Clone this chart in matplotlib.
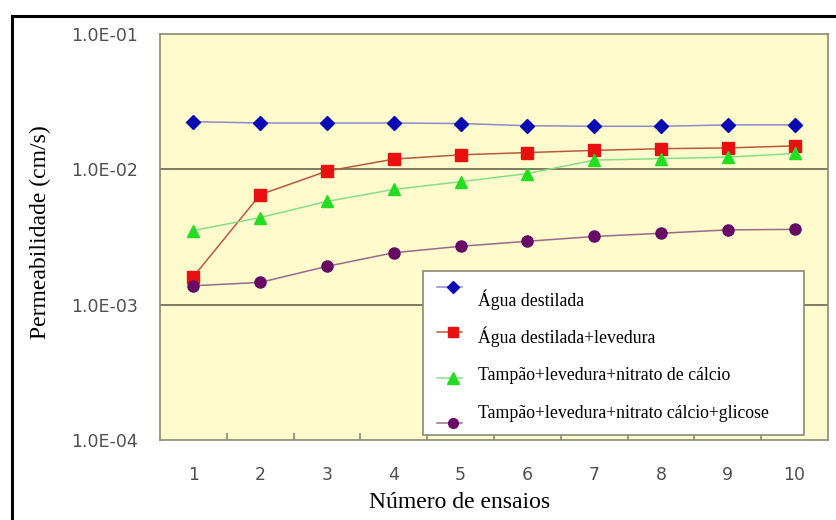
import numpy as np
import matplotlib.pyplot as plt
from matplotlib.patches import Rectangle
from matplotlib.lines import Line2D

ensaios = [1, 2, 3, 4, 5, 6, 7, 8, 9, 10]
agua = [0.0225, 0.0220, 0.0220, 0.0220, 0.0218, 0.0210, 0.0208, 0.0208, 0.0213, 0.0213]
agua_lev = [0.00161, 0.0065, 0.0097, 0.0119, 0.0128, 0.0133, 0.0138, 0.0142, 0.0144, 0.0149]
tamp_nit = [0.00353, 0.0044, 0.0058, 0.0071, 0.0081, 0.0093, 0.0117, 0.0120, 0.0123, 0.0131]
tamp_gli = [0.00138, 0.00146, 0.00192, 0.00242, 0.0027, 0.00294, 0.00319, 0.00337, 0.00357, 0.0036]
nomes = ['Água destilada', 'Água destilada+levedura',
         'Tampão+levedura+nitrato de cálcio',
         'Tampão+levedura+nitrato cálcio+glicose']
ytick_vals = [1e-4, 1e-3, 1e-2, 1e-1]
ytick_txt = ['1.0E-04', '1.0E-03', '1.0E-02', '1.0E-01']

W, H = 837, 520
fig = plt.figure(figsize=(W / 100, H / 100), dpi=100)

def fx(px):
    return px / W

def fy(py):
    return 1 - py / H

# outer black frame (left and top edges visible)
fig.add_artist(Rectangle((fx(12), fy(560)), fx(900), fy(16) - fy(560),
                         transform=fig.transFigure, fill=False,
                         edgecolor='black', linewidth=2.2))

ax = fig.add_axes([fx(160), fy(440), fx(828) - fx(160), fy(34) - fy(440)])
ax.set_facecolor('#fffbcc')
for s in ax.spines.values():
    s.set_color('#8a8a72')
    s.set_linewidth(1.2)

series = [
    (agua, 'D', '#0a0ab4', '#8a8acc', 7),
    (agua_lev, 's', '#e81010', '#b8583c', 8),
    (tamp_nit, '^', '#22dd22', '#88dd88', 9),
    (tamp_gli, 'o', '#660a66', '#9a6a8a', 8),
]
for vals, mk, mc, lc, ms in series:
    ax.plot(ensaios, vals, color=lc, linewidth=1.1, marker=mk, markersize=ms,
            markerfacecolor=mc, markeredgecolor=mc, zorder=3)

ax.set_yscale('log')
ax.set_ylim(1e-4, 1e-1)
ax.set_xlim(0.5, 10.5)
ax.set_yticks(ytick_vals)
ax.set_yticklabels(ytick_txt)
ax.yaxis.set_minor_locator(plt.NullLocator())
ax.tick_params(axis='y', length=0, pad=16, labelsize=12.5, labelcolor='#505050')
ax.set_xticks(ensaios)
ax.tick_params(axis='x', length=0, pad=19, labelsize=12.5, labelcolor='#505050')
ax.set_xticks(np.arange(1.5, 10.5, 1), minor=True)
ax.tick_params(axis='x', which='minor', direction='in', length=5,
               color='#8a8a72', width=1.2)
for v in [1e-3, 1e-2]:
    ax.axhline(v, color='#5a5a48', linewidth=1.1, zorder=1)

fig.text(fx(40), fy(232), 'Permeabilidade (cm/s)', rotation=90,
         ha='center', va='center', family='Liberation Serif', fontsize=17)
fig.text(fx(460), fy(503), 'Número de ensaios', ha='center', va='center',
         family='Liberation Serif', fontsize=17)

# legend box
fig.add_artist(Rectangle((fx(423), fy(435)), fx(804) - fx(423), fy(271) - fy(435),
                         transform=fig.transFigure, facecolor='white',
                         edgecolor='#8a8a72', linewidth=1.2, zorder=5))
mark_y = [287, 332, 378, 423]
text_y = [300, 337, 375, 413]
for (vals, mk, mc, lc, ms), my, ty, nome in zip(series, mark_y, text_y, nomes):
    fig.add_artist(Line2D([fx(437), fx(462)], [fy(my), fy(my)],
                          transform=fig.transFigure, color=lc, linewidth=1.1,
                          marker=None, zorder=6))
    fig.add_artist(Line2D([fx(453)], [fy(my)], transform=fig.transFigure,
                          linestyle='none', marker=mk, markersize=ms - 1,
                          markerfacecolor=mc, markeredgecolor=mc, zorder=7))
    fig.text(fx(478), fy(ty), nome, ha='left', va='center',
             family='Liberation Serif', fontsize=12.8, zorder=8)

fig.savefig('out.png', dpi=100)
